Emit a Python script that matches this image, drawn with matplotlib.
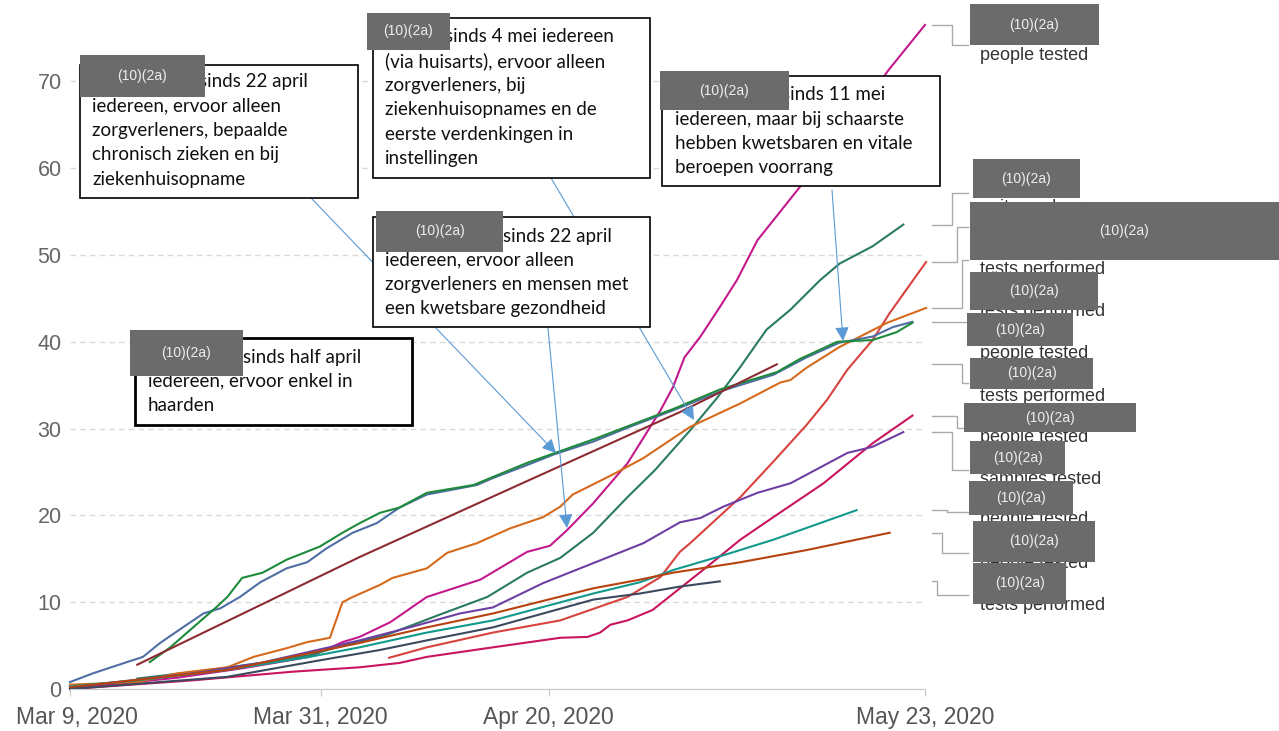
import numpy as np
import matplotlib.pyplot as plt
from matplotlib.patches import Rectangle
from matplotlib.lines import Line2D
import matplotlib.transforms as mtransforms

W, H = 1279, 731
start = np.datetime64('2020-03-09T00:00')

# days since 9 March 2020 / cumulative tests per 1,000 people
magenta_d = [0, 5, 9.4, 15.2, 21, 23.9, 25.4, 28.1, 31.3, 36, 40.1, 42.1, 43.6, 45.9, 48.9, 50, 51.8,
             52.9, 53.9, 55.3, 57, 58.5, 60.3, 61.7, 64, 68, 71.8, 75]
magenta_v = [0, 0.7, 1.3, 2.4, 3.7, 5.4, 6.0, 7.7, 10.6, 12.6, 15.8, 16.5, 18.3, 21.4, 26.0, 28.3, 32.1,
             34.8, 38.2, 40.6, 44.0, 47.1, 51.7, 54.0, 57.8, 64.4, 71.3, 76.5]

dteal_d = [5.9, 12.3, 16.7, 21, 24.8, 27.2, 28.3, 32.7, 36.6, 40.1, 43, 45.9, 48.9, 51.3, 54.4, 56.8,
           58.8, 61.1, 63.2, 65.8, 67.5, 70.4, 73.1]
dteal_v = [1.2, 2.2, 3.0, 3.9, 5.3, 6.0, 6.5, 8.7, 10.6, 13.4, 15.1, 18.0, 22.1, 25.2, 29.8, 33.6,
           37.1, 41.4, 43.7, 47.1, 49.0, 51.0, 53.5]

red_d = [28, 31.3, 37.1, 43, 48.9, 51.8, 53.5, 54.4, 58.8, 61.7, 64.6, 66.4, 68.2, 70.4, 71.9, 75.1]
red_v = [3.6, 4.8, 6.5, 7.9, 10.6, 12.9, 15.8, 16.8, 22.1, 26.2, 30.4, 33.3, 36.8, 40.2, 43.3, 49.2]

orange_d = [0, 5.9, 9.4, 13.8, 16.1, 19, 20.8, 22.8, 23.9, 24.8, 27.2, 28.3, 31.3, 33.1, 35.7, 38.6,
            41.5, 43, 44.1, 47.6, 50.3, 54.4, 58.8, 62.3, 63.2, 64.6, 67.5, 71.7, 75.1]
orange_v = [0.5, 0.8, 1.8, 2.5, 3.7, 4.7, 5.4, 5.9, 10.0, 10.6, 12.0, 12.8, 13.9, 15.7, 16.8, 18.5,
            19.8, 21.0, 22.4, 24.7, 26.6, 30.2, 32.9, 35.3, 35.6, 37.0, 39.4, 42.2, 43.9]

blue_d = [0, 2, 5, 6.4, 7.9, 9.9, 11.7, 13.2, 14.9, 16.7, 19, 20.8, 22.5, 24.8, 26.9, 28.9, 31.3,
          35.7, 37.1, 40.1, 42.4, 45.9, 48.9, 52.9, 57.3, 61.7, 64.6, 67.5, 70.4, 72.2, 73.9]
blue_v = [0.8, 1.8, 3.1, 3.7, 5.3, 7.1, 8.7, 9.3, 10.6, 12.3, 13.9, 14.6, 16.2, 18.0, 19.1, 20.9, 22.4,
          23.5, 24.3, 25.8, 27.0, 28.5, 30.1, 32.1, 34.4, 36.2, 38.2, 39.9, 40.6, 41.7, 42.3]

green_d = [7, 8.8, 10.8, 12.9, 13.8, 15.1, 16.9, 19, 21.9, 23.9, 25.4, 27.2, 28.9, 31.3, 35.4, 40,
           46, 49, 53, 57, 62, 64, 67.3, 70.4, 72.5, 73.9]
green_v = [3.1, 4.8, 7.1, 9.5, 10.6, 12.8, 13.4, 14.9, 16.4, 18.0, 19.1, 20.3, 20.9, 22.6, 23.5, 26.0,
           28.8, 30.3, 32.3, 34.5, 36.5, 38.0, 40.0, 40.2, 41.1, 42.2]

brown_d = [5.9, 25.4, 40, 53.5, 62]
brown_v = [2.8, 15.2, 23.9, 31.9, 37.4]

crimson_d = [0, 10.8, 19.6, 25.4, 28.9, 31.3, 37.1, 43, 45.4, 46.5, 47.4, 48.9, 51.1, 53.5, 55.9,
             58.8, 61.7, 66.1, 70.4, 73.9]
crimson_v = [0, 1.0, 2.0, 2.5, 3.0, 3.7, 4.8, 5.9, 6.0, 6.5, 7.4, 7.9, 9.1, 11.6, 14.1,
             17.2, 19.8, 23.7, 28.3, 31.5]

purple_d = [0, 10.8, 16.7, 25.4, 29.8, 34.2, 37.1, 41.5, 45.9, 50.3, 53.5, 55.3, 57.3, 60.3, 63.2,
            68.2, 70.4, 73.1]
purple_v = [0.2, 1.8, 3.0, 5.6, 7.1, 8.7, 9.4, 12.2, 14.5, 16.8, 19.2, 19.7, 21.0, 22.6, 23.7,
            27.2, 27.9, 29.6]

bteal_d = [0, 5.9, 13.8, 21, 25.4, 31.3, 37.1, 45.9, 50, 52.9, 57.3, 61.7, 69.0]
bteal_v = [0.3, 1.0, 2.2, 3.7, 4.8, 6.5, 7.9, 11.0, 12.3, 13.7, 15.4, 17.2, 20.6]

rust_d = [0, 13.8, 25.4, 31.3, 37.1, 45.9, 50, 52.9, 58.8, 64.6, 71.9]
rust_v = [0.2, 2.2, 5.3, 7.1, 8.7, 11.6, 12.6, 13.4, 14.6, 16.0, 18.0]

slate_d = [0, 7.9, 13.8, 21.9, 27.2, 31.3, 37.1, 45.9, 50, 53.5, 57]
slate_v = [0, 0.8, 1.4, 3.3, 4.5, 5.6, 7.1, 10.3, 11.0, 11.8, 12.4]

series = [
    (magenta_d, magenta_v, '#c4198c'),
    (dteal_d, dteal_v, '#2a7b5f'),
    (red_d, red_v, '#d8433f'),
    (orange_d, orange_v, '#d66a1c'),
    (blue_d, blue_v, '#4f6ea3'),
    (green_d, green_v, '#1e8a3c'),
    (brown_d, brown_v, '#8c2b32'),
    (crimson_d, crimson_v, '#c9145e'),
    (purple_d, purple_v, '#6e3fa3'),
    (bteal_d, bteal_v, '#11998c'),
    (rust_d, rust_v, '#b8420f'),
    (slate_d, slate_v, '#3c4a5e'),
]

tick_days = [0, 22, 42, 75]
tick_labels = ['Mar 9, 2020', 'Mar 31, 2020', 'Apr 20, 2020', 'May 23, 2020']
yticks = [0, 10, 20, 30, 40, 50, 60, 70]

# annotation boxes: (redacted first line tail, other lines)
notes = [
    ('sinds 22 april', ['iedereen, ervoor alleen', 'zorgverleners, bepaalde',
                        'chronisch zieken en bij', 'ziekenhuisopname']),
    ('sinds 4 mei iedereen', ['(via huisarts), ervoor alleen', 'zorgverleners, bij',
                              'ziekenhuisopnames en de', 'eerste verdenkingen in', 'instellingen']),
    ('sinds 22 april', ['iedereen, ervoor alleen', 'zorgverleners en mensen met',
                        'een kwetsbare gezondheid']),
    ('sinds half april', ['iedereen, ervoor enkel in', 'haarden']),
    ('sinds 11 mei', ['iedereen, maar bij schaarste', 'hebben kwetsbaren en vitale',
                      'beroepen voorrang']),
]
units = ['people tested', 'units unclear', 'tests performed', 'tests performed',
         'people tested', 'tests performed', 'people tested', 'samples tested',
         'people tested', 'people tested', 'tests performed']
redact = '(10)(2a)'


def fx(px):
    return px / W


def fy(py):
    return 1 - py / H


def days(d):
    return start + (np.array(d) * 86400).astype('timedelta64[s]')


fig = plt.figure(figsize=(W / 100, H / 100), dpi=100)
ax = fig.add_axes([fx(70), fy(689), 855 / W, (689 - 20.6) / H])

for d, v, c in series:
    ax.plot(days(d), v, color=c, lw=1.5, clip_on=False, solid_joinstyle='round')

ax.set_xlim(days([0])[0], days([75])[0])
ax.set_ylim(0, 77)
ax.set_xticks(days(tick_days))
ax.set_xticklabels(tick_labels)
ax.set_yticks(yticks)
for s in ['left', 'top', 'right']:
    ax.spines[s].set_visible(False)
ax.spines['bottom'].set_color('#c8c8c8')
ax.tick_params(axis='x', length=5, color='#c8c8c8', pad=7, labelsize=16.5, labelcolor='#555555')
ax.tick_params(axis='y', length=0, pad=6, labelsize=15.5, labelcolor='#666666')
for lab in ax.get_xticklabels() + ax.get_yticklabels():
    lab.set_family('Liberation Sans')
ax.get_xticklabels()[0].set_transform(ax.get_xticklabels()[0].get_transform() +
                                      mtransforms.ScaledTranslation(0.07, 0, fig.dpi_scale_trans))
ax.yaxis.grid(True, color='#d9d9d9', lw=1, dashes=(4, 3))
ax.set_axisbelow(True)

# arrows (figure pixels, y from top)
arrows = [((312, 199), (556, 453)), ((548, 328), (567, 528)),
          ((551, 178), (694, 420)), ((832, 190), (843, 341))]
for (x0, y0), (x1, y1) in arrows:
    ax.annotate('', xy=(x1, H - y1), xycoords='figure pixels',
                xytext=(x0, H - y0), textcoords='figure pixels',
                arrowprops=dict(arrowstyle='-|>,head_length=0.6,head_width=0.3',
                                color='#5b9bd5', lw=0.8, mutation_scale=14,
                                shrinkA=0, shrinkB=0),
                annotation_clip=False)

# note boxes: frame, text x, first-line x, redaction rect, border width
frames = [(80, 65, 358, 198), (373, 18, 650, 178), (373, 217, 650, 327),
          (135, 338, 412, 425), (662, 76, 940, 186)]
text_x = [92, 385, 385, 148, 675]
first_x = [199, 445, 503, 243, 782]
first_y = [82, 37, 236, 357, 95]
red_rects = [(80, 55, 205, 97), (367, 13, 450, 50), (376, 211, 503, 252),
             (130, 330, 243, 376), (660, 71, 789, 110)]
borders = [1.2, 1.2, 1.2, 2.0, 1.2]


def gray_box(x0, y0, x1, y1, z=7):
    fig.add_artist(Rectangle((fx(x0), fy(y1)), (x1 - x0) / W, (y1 - y0) / H,
                             transform=fig.transFigure, fc='#6b6b6b', ec='none', zorder=z))
    fig.text(fx((x0 + x1) / 2), fy((y0 + y1) / 2), redact, ha='center', va='center',
             color='#eeeeee', fontsize=10, family='Liberation Sans', zorder=z + 0.5)


for i, (first, lines) in enumerate(notes):
    x0, y0, x1, y1 = frames[i]
    fig.add_artist(Rectangle((fx(x0), fy(y1)), (x1 - x0) / W, (y1 - y0) / H,
                             transform=fig.transFigure, fc='white', ec='black',
                             lw=borders[i], zorder=5))
    fig.text(fx(first_x[i]), fy(first_y[i]), first, family='Lato', fontsize=13.5,
             va='center', color='#111111', zorder=6)
    for k, s in enumerate(lines):
        fig.text(fx(text_x[i]), fy(first_y[i] + 24.3 * (k + 1)), s, family='Lato',
                 fontsize=13.5, va='center', color='#111111', zorder=6)
    gray_box(*red_rects[i])

# right-hand labels
right_rects = [(970, 4, 1099, 45), (973, 159, 1080, 198), (970, 202, 1279, 260),
               (970, 272, 1098, 310), (967, 313, 1073, 346), (970, 358, 1093, 389),
               (964, 403, 1136, 432), (970, 441, 1065, 474), (969, 481, 1073, 515),
               (973, 521, 1095, 562), (973, 563, 1066, 604)]
unit_y = [55, 207, 269, 312, 353, 396, 437, 479, 520, 564, 606]
for s, yy in zip(units, unit_y):
    fig.text(fx(980), fy(yy), s, family='Liberation Sans', fontsize=13,
             va='center', color='#333333', zorder=4)
for r in right_rects:
    gray_box(*r)

# leader lines from series end values to label blocks
leader_ends = [magenta_v[-1], dteal_v[-1], red_v[-1], orange_v[-1], blue_v[-1],
               brown_v[-1], crimson_v[-1], purple_v[-1], bteal_v[-1], rust_v[-1], slate_v[-1]]
leader_xv = [952, 952, 957, 962, 968, 962, 957, 952, 947, 942, 937]
leader_yl = [45, 193, 227, 260, 322, 383, 428, 470, 512, 553, 595]
for v, xv, yl in zip(leader_ends, leader_xv, leader_yl):
    yd = H - ax.transData.transform((0, v))[1]
    fig.add_artist(Line2D([fx(932), fx(xv), fx(xv), fx(968)],
                          [fy(yd), fy(yd), fy(yl), fy(yl)],
                          transform=fig.transFigure, color='#aaaaaa', lw=1, zorder=3))

fig.savefig('out.png', dpi=100)
